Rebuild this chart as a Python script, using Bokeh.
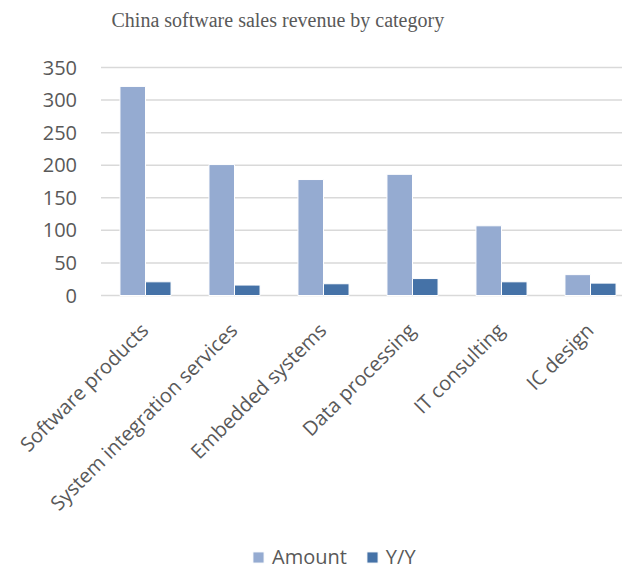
import math
from bokeh.plotting import figure
from bokeh.models import Range1d, Legend, LegendItem, Label
from bokeh.core.properties import value
from bokeh.embed import file_html
from bokeh.resources import INLINE

categories = ["Software products", "System integration services", "Embedded systems",
              "Data processing", "IT consulting", "IC design"]
amount = [321, 201, 178, 186, 107, 32]
yoy = [21, 16, 18, 26, 21, 19]
y_ticks = [0, 50, 100, 150, 200, 250, 300, 350]
title_text = "China software sales revenue by category"

AMOUNT_COLOR = "#95abd1"
YOY_COLOR = "#4572a7"
TEXT_COLOR = "#595959"
FONT = "Open Sans"

# layout (pixels) -> ranges: the frame covers the whole canvas
W, H = 622, 570
CAT_PX = 89.0            # width of one category
FIRST_CENTER_PX = 145.0  # x pixel of first category centre
Y0_PX, YTOP_PX = 295.0, 67.0
k = (Y0_PX - YTOP_PX) / max(y_ticks)
x_start = 0.5 - FIRST_CENTER_PX / CAT_PX
x_end = x_start + W / CAT_PX
y_end = max(y_ticks) + YTOP_PX / k
y_start = -(H - Y0_PX) / k

bar_w = 0.287
centers = [i + 0.5 for i in range(len(categories))]
x_amount = [c - bar_w / 2 for c in centers]
x_yoy = [c + bar_w / 2 for c in centers]

p = figure(width=W, height=H, output_backend="svg", toolbar_location=None,
           x_range=Range1d(x_start, x_end), y_range=Range1d(y_start, y_end),
           x_axis_location=None, y_axis_location=None,
           min_border=0)
p.outline_line_color = None
p.title = None
p.grid.visible = False

# horizontal grid lines at the y ticks, starting at the plot area's left edge
p.segment(x0=[0] * len(y_ticks), x1=[x_end] * len(y_ticks), y0=y_ticks, y1=y_ticks,
          line_color="#d9d9d9", line_width=1.5)

r1 = p.vbar(x=x_amount, top=amount, width=bar_w, bottom=0,
            fill_color=AMOUNT_COLOR, line_color="white", line_width=1)
r2 = p.vbar(x=x_yoy, top=yoy, width=bar_w, bottom=0,
            fill_color=YOY_COLOR, line_color="white", line_width=1)

# y tick labels
p.text(x=[0] * len(y_ticks), y=y_ticks, text=[str(t) for t in y_ticks],
       x_offset=-24, text_align="right", text_baseline="middle",
       text_font=value(FONT), text_font_size="20px", text_color=TEXT_COLOR)

# category labels, rotated 45 degrees
p.text(x=centers, y=[0] * len(centers), text=categories,
       angle=math.pi / 4, x_offset=-1, y_offset=31,
       text_align="right", text_baseline="middle",
       text_font=value(FONT), text_font_size="20px", text_color=TEXT_COLOR)

# title
p.add_layout(Label(x=x_start + 111 / CAT_PX, y=y_end - 19 / k, text=title_text,
                   text_font="Liberation Serif", text_font_size="20px",
                   text_color=TEXT_COLOR, text_align="left",
                   text_baseline="alphabetic"))

legend = Legend(items=[LegendItem(label="Amount", renderers=[r1]),
                       LegendItem(label="Y/Y", renderers=[r2])],
                orientation="horizontal", location=(251, 0),
                label_text_font=FONT, label_text_font_size="20px",
                label_text_color=TEXT_COLOR, glyph_width=14, glyph_height=14,
                spacing=18, label_standoff=7, border_line_color=None,
                padding=0, margin=0, background_fill_alpha=0)
p.add_layout(legend, "center")

open("out.html", "w").write(file_html(p, INLINE))
